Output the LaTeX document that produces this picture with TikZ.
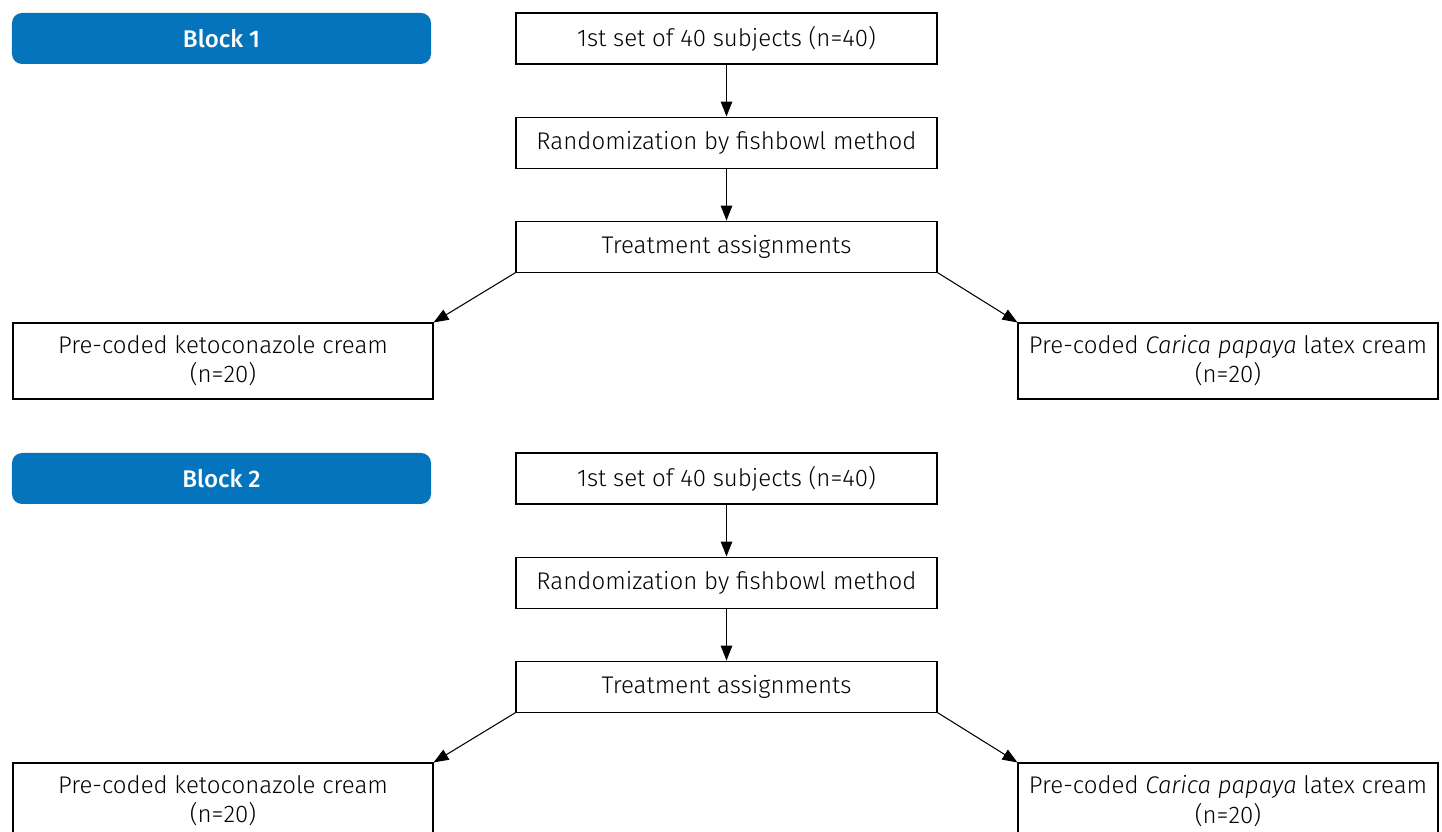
\documentclass[tikz,border=0pt]{standalone}
\usepackage{fontspec}
\setmainfont{Fira Sans Light}[BoldFont=Fira Sans Medium,ItalicFont=Fira Sans Light Italic]
\usetikzlibrary{arrows.meta,positioning}
\definecolor{blockblue}{RGB}{4,116,188}

\begin{document}
\begin{tikzpicture}[
  node distance=1.04cm and 0.8cm,
  font=\fontsize{13.7}{16.6}\selectfont,
  blocktag/.style={rectangle,rounded corners=0.2cm,fill=blockblue,text=white,font=\fontsize{13.7}{16.6}\selectfont\bfseries,minimum width=8.38cm,minimum height=1.02cm,align=center},
  stage/.style={rectangle,draw=black,line width=0.6pt,minimum width=8.42cm,minimum height=1.02cm,align=center},
  group/.style={rectangle,draw=black,line width=0.6pt,minimum width=8.4cm,minimum height=1.52cm,align=center},
  arrow/.style={-{Triangle[length=3mm,width=2.3mm]},line width=0.6pt,draw=black}]
  \useasboundingbox (0,0) rectangle (28.84,-16.64);
  % block 1
  \node[blocktag] (tagA) at (4.43,-0.77) {Block 1};
  \node[stage] (setA) at (14.53,-0.77) {1st set of 40 subjects (n=40)};
  \node[stage,below=of setA] (randA) {Randomization by fishbowl method};
  \node[stage,below=of randA] (assignA) {Treatment assignments};
  \node[group] (ketoA) at (4.46,-7.22) {Pre-coded ketoconazole cream\\(n=20)};
  \node[group] (papayaA) at (24.56,-7.22) {Pre-coded \textit{Carica papaya} latex cream\\(n=20)};
  \draw[arrow] (setA)--(randA); \draw[arrow] (randA)--(assignA);
  \draw[arrow] (assignA.south west)--(ketoA.north east); \draw[arrow] (assignA.south east)--(papayaA.north west);
  % block 2
  \node[blocktag] (tagB) at (4.43,-9.57) {Block 2};
  \node[stage] (setB) at (14.53,-9.57) {1st set of 40 subjects (n=40)};
  \node[stage,below=of setB] (randB) {Randomization by fishbowl method};
  \node[stage,below=of randB] (assignB) {Treatment assignments};
  \node[group] (ketoB) at (4.46,-16.02) {Pre-coded ketoconazole cream\\(n=20)};
  \node[group] (papayaB) at (24.56,-16.02) {Pre-coded \textit{Carica papaya} latex cream\\(n=20)};
  \draw[arrow] (setB)--(randB); \draw[arrow] (randB)--(assignB);
  \draw[arrow] (assignB.south west)--(ketoB.north east); \draw[arrow] (assignB.south east)--(papayaB.north west);
\end{tikzpicture}
\end{document}
